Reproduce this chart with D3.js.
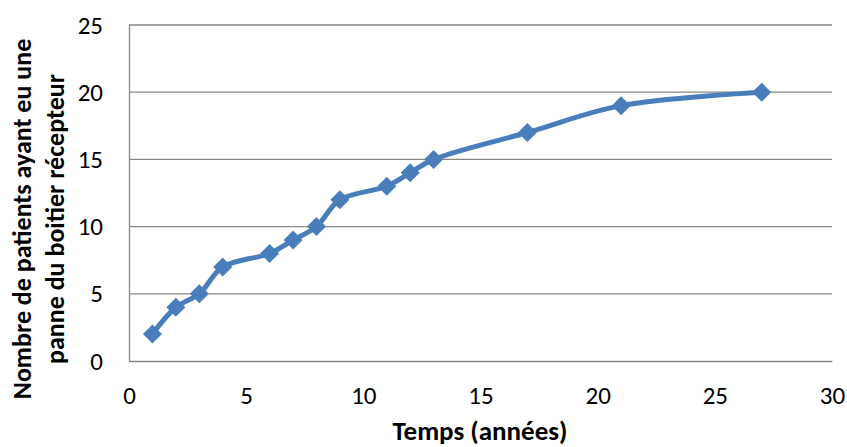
<!DOCTYPE html>
<html>
<head>
<meta charset="utf-8">
<script src="https://cdn.jsdelivr.net/npm/d3@7"></script>
<style>
  body { margin: 0; background: #fff; }
  text { font-family: Carlito, Lato, "Open Sans", "Liberation Sans", sans-serif; fill: #000; }
</style>
</head>
<body>
<script>
// Data
const years = [1, 2, 3, 4, 6, 7, 8, 9, 11, 12, 13, 17, 21, 27];
const patients = [2, 4, 5, 7, 8, 9, 10, 12, 13, 14, 15, 17, 19, 20];
const xTicks = [0, 5, 10, 15, 20, 25, 30];
const yTicks = [0, 5, 10, 15, 20, 25];

const W = 847, H = 447;
const margin = { top: 25, right: 15, bottom: 86, left: 129 };
const width = W - margin.left - margin.right;
const height = H - margin.top - margin.bottom;

const svg = d3.select("body").append("svg")
    .attr("width", W)
    .attr("height", H);

const g = svg.append("g")
    .attr("transform", `translate(${margin.left},${margin.top})`);

const x = d3.scaleLinear().domain([0, 30]).range([0, width]);
const y = d3.scaleLinear().domain([0, 25]).range([height, 0]);

// horizontal gridlines
g.selectAll(".grid")
    .data(yTicks.filter(d => d > 0))
    .enter().append("line")
    .attr("x1", 0).attr("x2", width)
    .attr("y1", d => y(d)).attr("y2", d => y(d))
    .attr("stroke", "#868686")
    .attr("stroke-width", 1.3);

// axes
const xAxis = g.append("g")
    .attr("transform", `translate(0,${height})`)
    .call(d3.axisBottom(x).tickValues(xTicks).tickSize(0));
const yAxis = g.append("g")
    .call(d3.axisLeft(y).tickValues(yTicks).tickSize(0).tickPadding(26));

[xAxis, yAxis].forEach(a => {
    a.attr("font-size", null).attr("font-family", null);
    a.select(".domain").attr("stroke", "#868686").attr("stroke-width", 1.3);
    a.selectAll("text").style("font-size", "25px");
});
xAxis.selectAll("text").attr("y", 43).attr("dy", 0);

// line
const pts = years.map((d, i) => [d, patients[i]]);
g.append("path")
    .datum(pts)
    .attr("fill", "none")
    .attr("stroke", "#4a7ebb")
    .attr("stroke-width", 5)
    .attr("d", d3.line()
        .x(d => x(d[0]))
        .y(d => y(d[1]))
        .curve(d3.curveCatmullRom.alpha(0.5)));

// diamond markers
g.selectAll(".pt")
    .data(pts)
    .enter().append("path")
    .attr("transform", d => `translate(${x(d[0])},${y(d[1])})`)
    .attr("d", "M0,-9.5L9.5,0L0,9.5L-9.5,0Z")
    .attr("fill", "#4a7ebb");

// axis titles
svg.append("text")
    .attr("x", 480)
    .attr("y", 440)
    .attr("text-anchor", "middle")
    .style("font-size", "27px")
    .style("font-weight", "bold")
    .text("Temps (années)");

const yt = svg.append("text")
    .attr("transform", `translate(0,${219}) rotate(-90)`)
    .attr("text-anchor", "middle")
    .style("font-size", "26px")
    .style("font-weight", "bold");
yt.append("tspan").attr("x", 0).attr("y", 31).text("Nombre de patients ayant eu une");
yt.append("tspan").attr("x", 0).attr("y", 64).text("panne du boitier récepteur");
</script>
</body>
</html>
